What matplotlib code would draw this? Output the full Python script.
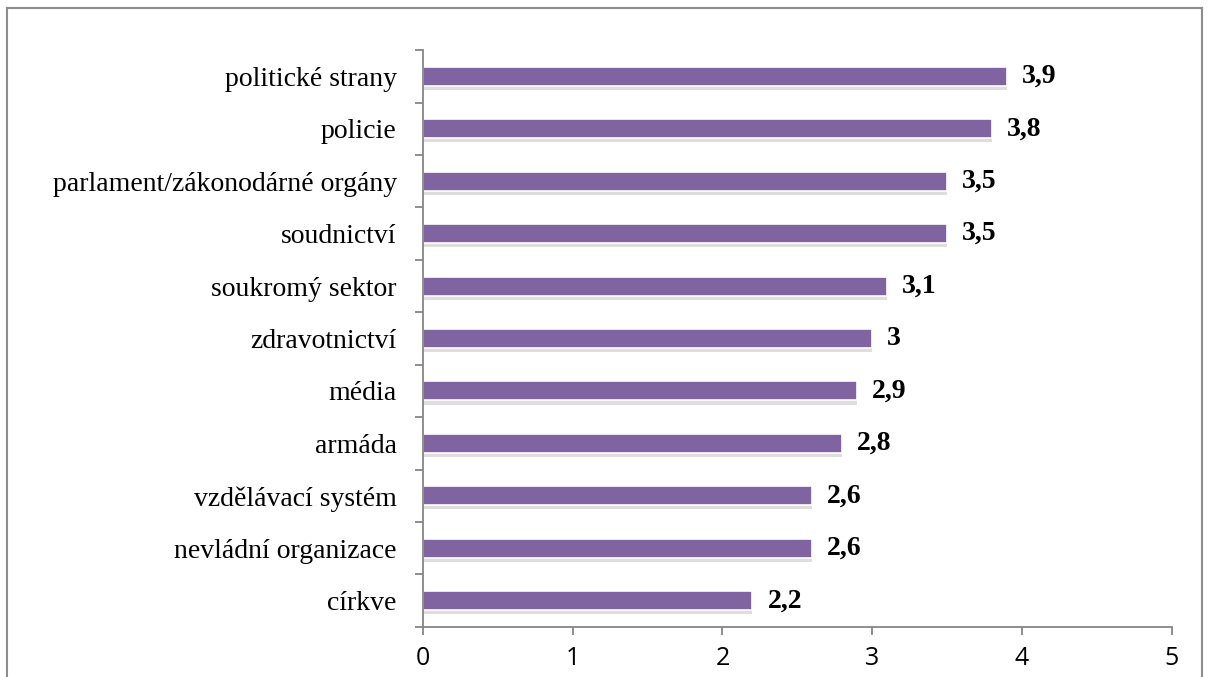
import matplotlib.pyplot as plt
from matplotlib.lines import Line2D
import numpy as np

categories = ['církve', 'nevládní organizace', 'vzdělávací systém', 'armáda', 'média',
              'zdravotnictví', 'soukromý sektor', 'soudnictví',
              'parlament/zákonodárné orgány', 'policie', 'politické strany']
values = [2.2, 2.6, 2.6, 2.8, 2.9, 3.0, 3.1, 3.5, 3.5, 3.8, 3.9]
xticks = [0, 1, 2, 3, 4, 5]

bar_color = '#8064A2'
axis_color = '#868686'

fig = plt.figure(figsize=(12.09, 6.77), dpi=100)
ax = fig.add_axes([0.350, 0.074, 0.619, 0.852])

y = np.arange(len(categories))
# soft shadow under each bar
ax.barh(y - 0.08, values, height=0.36, color='#c8c8c8', alpha=0.6, zorder=1)
ax.barh(y, values, height=0.36, color=bar_color, edgecolor='white', linewidth=1.2, zorder=2)

for yi, v in zip(y, values):
    txt = ('%g' % v).replace('.', ',')
    ax.text(v + 0.1, yi, txt, va='center', ha='left', fontsize=20,
            fontweight='bold', family='Liberation Serif', zorder=3)

ax.set_xlim(0, 5)
ax.set_ylim(-0.5, len(categories) - 0.5)
ax.set_xticks(xticks)
ax.set_xticklabels([str(t) for t in xticks], family='Open Sans', fontsize=18)
ax.set_yticks(y)
ax.set_yticklabels(categories, family='Liberation Serif', fontsize=20)
ax.set_yticks(np.arange(len(categories) + 1) - 0.5, minor=True)
ax.tick_params(axis='y', which='major', length=0, pad=19)
ax.tick_params(axis='y', which='minor', length=6, color=axis_color, width=1.3)
ax.tick_params(axis='x', length=6, color=axis_color, width=1.3, pad=8)

for side in ['top', 'right']:
    ax.spines[side].set_visible(False)
for side in ['left', 'bottom']:
    ax.spines[side].set_color(axis_color)
    ax.spines[side].set_linewidth(1.3)

# outer chart frame
W, H = 1209, 677
frame = dict(color='#8c8c8c', linewidth=1.5, transform=fig.transFigure)
fig.add_artist(Line2D([7 / W, 7 / W], [0, 1 - 8 / H], **frame))
fig.add_artist(Line2D([7 / W, 1202 / W], [1 - 8 / H, 1 - 8 / H], **frame))
fig.add_artist(Line2D([1202 / W, 1202 / W], [0, 1 - 8 / H], **frame))

fig.savefig('out.png', dpi=100)
